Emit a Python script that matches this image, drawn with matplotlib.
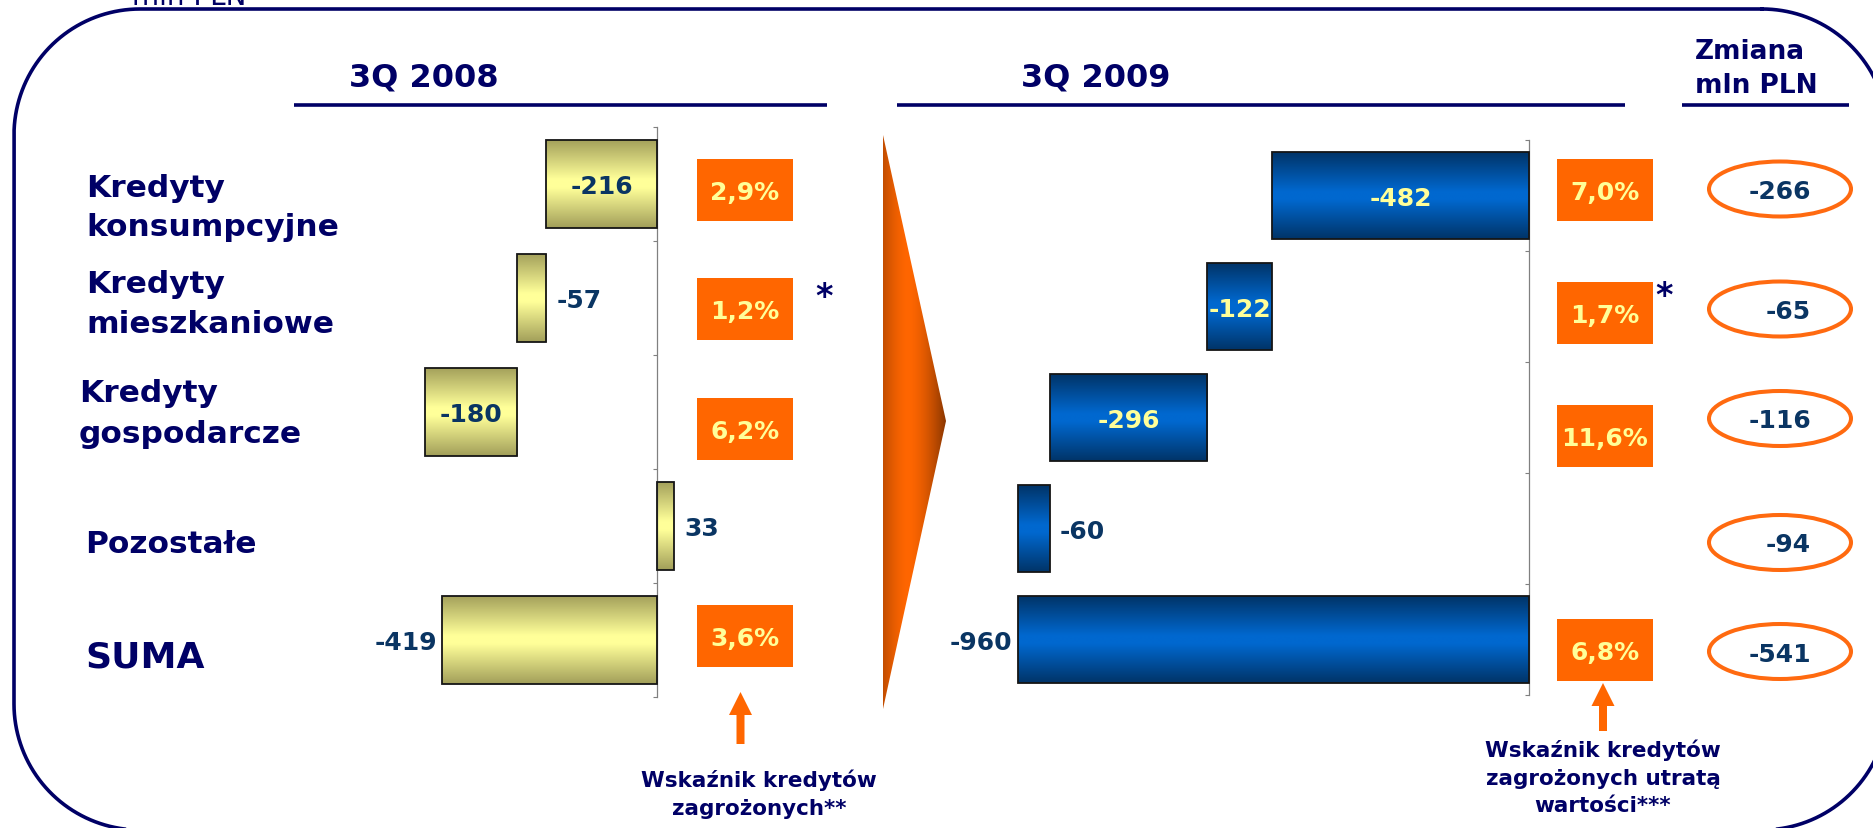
import numpy as np
import matplotlib
matplotlib.use("Agg")
import matplotlib.pyplot as plt
from matplotlib.patches import Rectangle, Ellipse, Polygon, FancyArrow
from matplotlib.colors import LinearSegmentedColormap, to_rgb

# --- data -------------------------------------------------------------
categories = ["Kredyty\nkonsumpcyjne", "Kredyty\nmieszkaniowe", "Kredyty\ngospodarcze",
              "Pozostałe", "SUMA"]
q3_2008 = [-216, -57, -180, 33, -419]
q3_2009 = [-482, -122, -296, -60, -960]
npl_ratio_2008 = ["2,9%", "1,2%", "6,2%", None, "3,6%"]
impaired_ratio_2009 = ["7,0%", "1,7%", "11,6%", None, "6,8%"]
change_mln = [-266, -65, -116, -94, -541]

NAVY = "#000066"
NUM = "#0A3563"
ORANGE = "#FF6600"
PALE = "#FFFF99"

W, H = 1874, 829
fig = plt.figure(figsize=(W / 100, H / 100), dpi=100)
fig.patch.set_facecolor("white")

# background layer in pixel units (y down)
bg = fig.add_axes([0, 0, 1, 1])
bg.set_xlim(0, W)
bg.set_ylim(H, 0)
bg.axis("off")


def px_axes(x0, x1, y0, y1):
    ax = fig.add_axes([x0 / W, 1 - y1 / H, (x1 - x0) / W, (y1 - y0) / H])
    ax.set_facecolor("none")
    return ax


def bar_lefts(values):
    # waterfall: losses stack on the running total, gains and the total start at the axis
    lefts, run = [], 0
    for v in values[:-1]:
        if v < 0:
            lefts.append(run)
            run += v
        else:
            lefts.append(0)
    lefts.append(0)
    return lefts


def draw_panel(ax, values, modes, in_color, edge, mid, xlim):
    y = np.arange(len(values)) + 0.5
    lefts = bar_lefts(values)
    bars = ax.barh(y, values, left=lefts, height=0.78, facecolor="none",
                   edgecolor="#151515", linewidth=1.3, zorder=3)
    cmap = LinearSegmentedColormap.from_list(
        "shade", [(0, edge), (0.45, mid), (0.55, mid), (1, edge)])
    grad = np.linspace(0, 1, 128).reshape(-1, 1)
    for b in bars:
        x0, y0, w, h = b.get_x(), b.get_y(), b.get_width(), b.get_height()
        im = ax.imshow(grad, extent=[min(x0, x0 + w), max(x0, x0 + w), y0 + h, y0],
                       cmap=cmap, aspect="auto", interpolation="bilinear", zorder=2)
        im.set_clip_path(b)
    for v, lft, yc, mode in zip(values, lefts, y, modes):
        lo, hi = sorted([lft, lft + v])
        if mode == "in":
            x, ha, dx, col = (lo + hi) / 2, "center", 0, in_color
        elif mode == "right":
            x, ha, dx, col = hi, "left", 10, NUM
        else:
            x, ha, dx, col = lo, "right", -5, NUM
        ax.annotate(f"{v}", xy=(x, yc), xytext=(dx * 0.72, -6.6),
                    textcoords="offset points", ha=ha, va="baseline",
                    fontsize=18, fontweight="bold", color=col, zorder=4)
    ax.set_xlim(*xlim)
    ax.set_ylim(len(values), 0)
    ax.set_xticks([])
    ax.set_yticks(range(len(values) + 1))
    ax.tick_params(axis="y", length=3, width=0.8, color="#808080",
                   labelleft=False, direction="out")
    for s in ("top", "right", "bottom"):
        ax.spines[s].set_visible(False)
    ax.spines["left"].set_position(("data", 0))
    ax.spines["left"].set_color("#808080")
    ax.spines["left"].set_linewidth(0.9)


# left panel: zero at x=657 px, 0.512 px per mln
ax1 = px_axes(280, 800, 128, 698)
draw_panel(ax1, q3_2008, ["in", "right", "in", "right", "left"], NUM,
           "#A29F5A", PALE, ((280 - 657) / 0.512, (800 - 657) / 0.512))

# right panel: zero at x=1529 px, 0.5326 px per mln
ax2 = px_axes(930, 1560, 141, 696)
draw_panel(ax2, q3_2009, ["in", "in", "in", "right", "left"], PALE,
           "#013468", "#0068CF", ((930 - 1529) / 0.5326, (1560 - 1529) / 0.5326))


# --- frame --------------------------------------------------------------
def rounded_rect(x0, y0, x1, y1, r, n=40):
    pts = []
    corners = [((x1 - r, y0 + r), -90, 0), ((x1 - r, y1 - r), 0, 90),
               ((x0 + r, y1 - r), 90, 180), ((x0 + r, y0 + r), 180, 270)]
    for (cx, cy), a0, a1 in corners:
        a = np.radians(np.linspace(a0, a1, n))
        pts.extend(zip(cx + r * np.cos(a), cy + r * np.sin(a)))
    pts.append(pts[0])
    return np.array(pts)


frame = rounded_rect(14, 10, 1888, 831, 126)
bg.plot(frame[:, 0], frame[:, 1], color=NAVY, linewidth=2.6, zorder=1)
bg.text(132, 5, "mln PLN", fontsize=20, color=NAVY, ha="left", va="baseline")

# --- headers ------------------------------------------------------------
hdr = dict(fontsize=23, fontweight="bold", color=NAVY, va="baseline")
bg.text(424, 86, "3Q 2008", ha="center", **hdr)
bg.text(1096, 86, "3Q 2009", ha="center", **hdr)
bg.text(1695, 59, "Zmiana", ha="left", fontsize=19, fontweight="bold", color=NAVY)
bg.text(1695, 93, "mln PLN", ha="left", fontsize=19, fontweight="bold", color=NAVY)
for x0, x1 in [(294, 827), (897, 1625), (1682, 1849)]:
    bg.plot([x0, x1], [106, 106], color=NAVY, linewidth=2.6, solid_capstyle="butt")

# --- category labels ------------------------------------------------------
label_pos = [(86, [196.7, 236]), (86, [292.7, 332.7]), (79, [401.7, 443]),
             (85, [552.7]), (85, [667])]
for name, (x, baselines) in zip(categories, label_pos):
    fs = 26 if name == "SUMA" else 22.5
    for line, yb in zip(name.split("\n"), baselines):
        bg.text(x, yb, line, fontsize=fs, fontweight="bold", color=NAVY,
                ha="left", va="baseline")

# --- ratio boxes ----------------------------------------------------------
def ratio_boxes(x0, centers, labels):
    for yc, txt in zip(centers, labels):
        if txt is None:
            continue
        bg.add_patch(Rectangle((x0, yc - 31), 96, 62, facecolor=ORANGE,
                               edgecolor="none", zorder=2))
        bg.text(x0 + 48, yc + 9, txt, fontsize=18, fontweight="bold", color=PALE,
                ha="center", va="baseline", zorder=3)


ratio_boxes(697, [191, 310, 430, None, 637], npl_ratio_2008)
ratio_boxes(1557, [190.5, 313.5, 437, None, 650.5], impaired_ratio_2009)
bg.text(824, 307, "*", fontsize=24, fontweight="bold", color=NAVY, ha="center", va="baseline")
bg.text(1664, 306, "*", fontsize=24, fontweight="bold", color=NAVY, ha="center", va="baseline")

# --- change column --------------------------------------------------------
for yc, v in zip([190, 310, 419.5, 543.5, 652.5], change_mln):
    bg.add_patch(Ellipse((1780, yc), 142, 55, fill=False, edgecolor="#FF6A10",
                         linewidth=2.9, zorder=2))
    bg.text(1811, yc + 9, f"{v}", fontsize=18, fontweight="bold", color=NUM,
            ha="right", va="baseline", zorder=3)

# --- big shaded arrow between the panels ----------------------------------
tri = Polygon([(883, 136), (946, 422), (883, 710)], closed=True,
              facecolor="none", edgecolor="none")
bg.add_patch(tri)
t = np.linspace(0, 1, 200)
f = np.clip(1 - (np.abs(t - 0.4) / 0.6) ** 1.6, 0, 1)
dark, bright = np.array(to_rgb("#8A3600")), np.array(to_rgb(ORANGE))
shade = dark[None, :] * (1 - f[:, None]) + bright[None, :] * f[:, None]
im = bg.imshow(shade[None, :, :], extent=[883, 946, 710, 136], aspect="auto",
               interpolation="bilinear", zorder=1)
im.set_clip_path(tri)

# --- pointer arrows and footnotes -----------------------------------------
for x, tip, tail in [(740.5, 693, 745), (1603, 684, 732)]:
    bg.add_patch(FancyArrow(x, tail, 0, tip - tail, width=8, head_width=23,
                            head_length=23, length_includes_head=True,
                            facecolor=ORANGE, edgecolor="none", zorder=2))

foot = dict(fontsize=15.5, fontweight="bold", color=NAVY, ha="center", va="baseline")
for line, yb in zip(["Wskaźnik kredytów", "zagrożonych**"], [787, 815]):
    bg.text(759, yb, line, **foot)
for line, yb in zip(["Wskaźnik kredytów", "zagrożonych utratą", "wartości***"],
                    [757, 785, 812]):
    bg.text(1603, yb, line, **foot)

bg.set_xlim(0, W)
bg.set_ylim(H, 0)

fig.savefig("out.png", dpi=100, facecolor="white")
